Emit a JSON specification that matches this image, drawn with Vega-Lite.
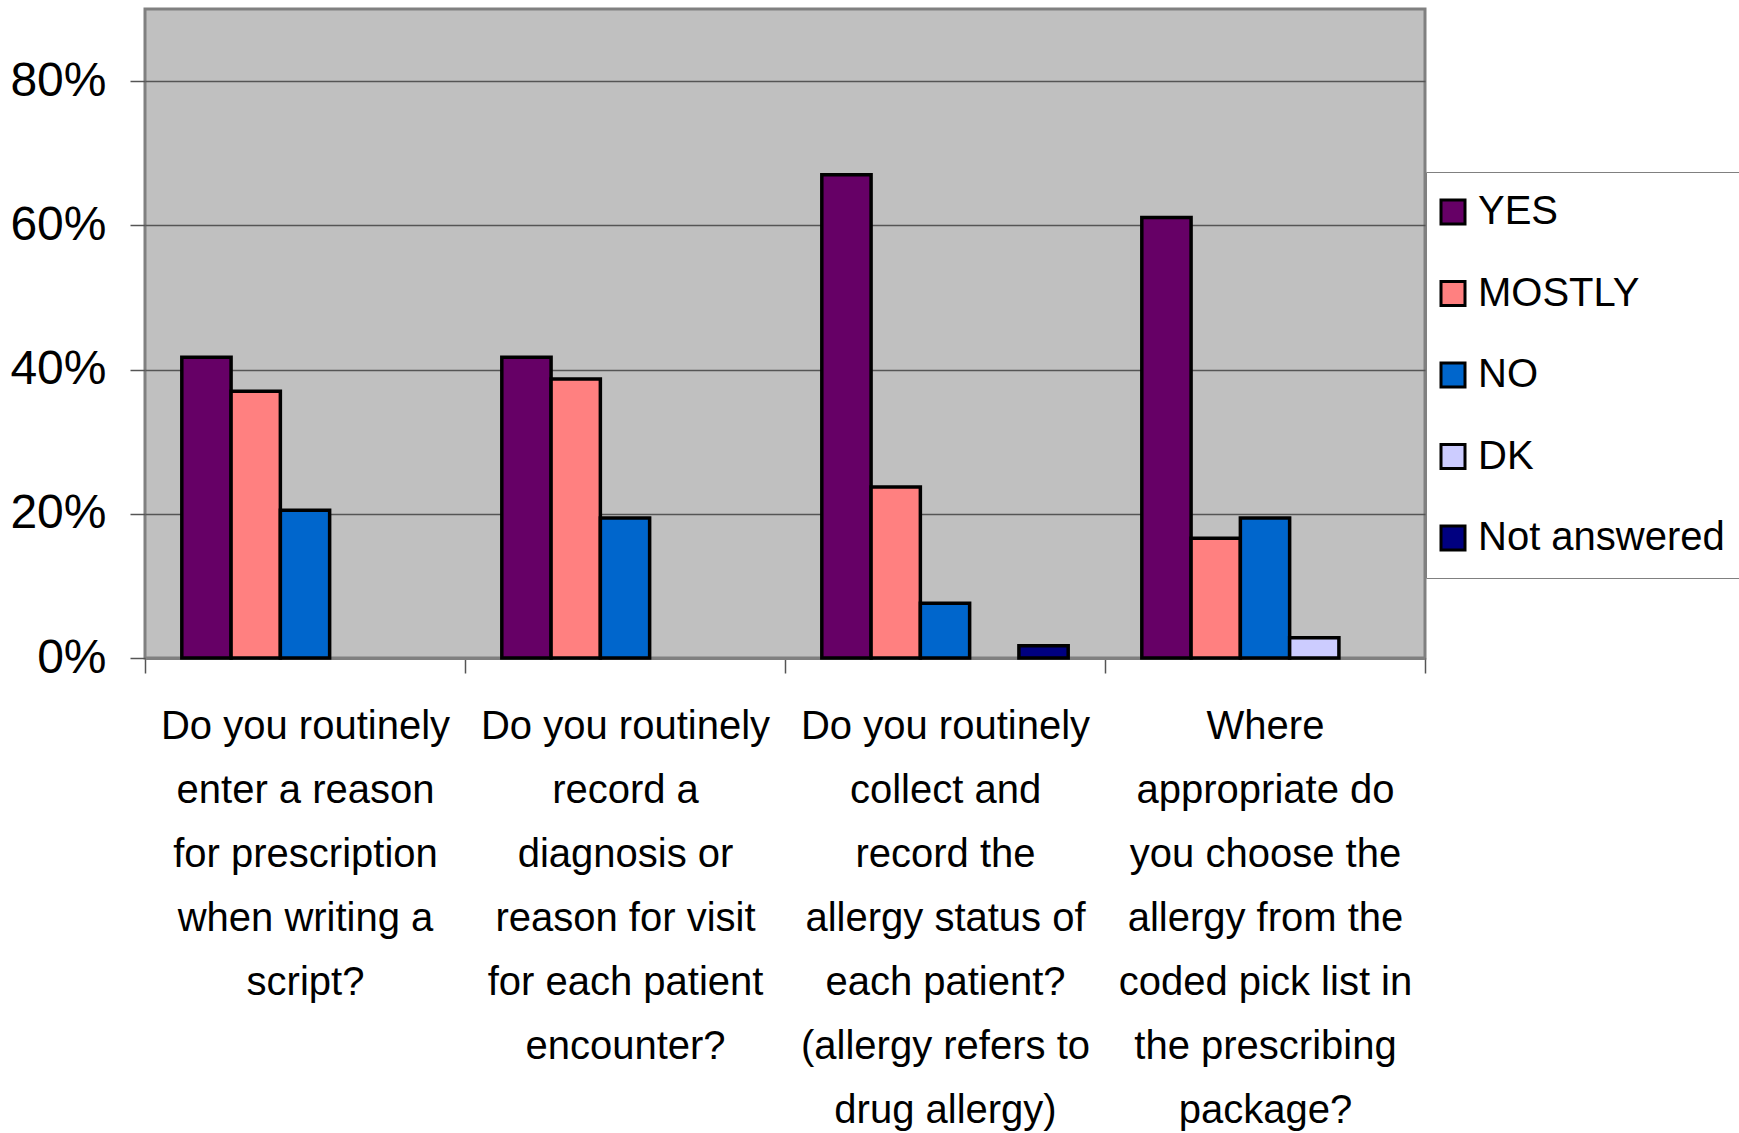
{
  "$schema": "https://vega.github.io/schema/vega-lite/v6.json",
  "width": 1280,
  "height": 649,
  "autosize": "none",
  "padding": {"left": 145, "top": 9, "right": 314, "bottom": 475},
  "background": "white",
  "config": {
    "view": {"fill": "#C0C0C0", "stroke": "#808080", "strokeWidth": 3},
    "font": "Liberation Sans"
  },
  "data": {
    "values": [
      {"question": "Do you routinely|enter a reason|for prescription|when writing a|script?", "response": "YES", "pct": 0.417},
      {"question": "Do you routinely|enter a reason|for prescription|when writing a|script?", "response": "MOSTLY", "pct": 0.37},
      {"question": "Do you routinely|enter a reason|for prescription|when writing a|script?", "response": "NO", "pct": 0.205},
      {"question": "Do you routinely|record a|diagnosis or|reason for visit|for each patient|encounter?", "response": "YES", "pct": 0.417},
      {"question": "Do you routinely|record a|diagnosis or|reason for visit|for each patient|encounter?", "response": "MOSTLY", "pct": 0.387},
      {"question": "Do you routinely|record a|diagnosis or|reason for visit|for each patient|encounter?", "response": "NO", "pct": 0.194},
      {"question": "Do you routinely|collect and|record the|allergy status of|each patient?|(allergy refers to|drug allergy)", "response": "YES", "pct": 0.67},
      {"question": "Do you routinely|collect and|record the|allergy status of|each patient?|(allergy refers to|drug allergy)", "response": "MOSTLY", "pct": 0.237},
      {"question": "Do you routinely|collect and|record the|allergy status of|each patient?|(allergy refers to|drug allergy)", "response": "NO", "pct": 0.076},
      {"question": "Do you routinely|collect and|record the|allergy status of|each patient?|(allergy refers to|drug allergy)", "response": "Not answered", "pct": 0.017},
      {"question": "Where|appropriate do|you choose the|allergy from the|coded pick list in|the prescribing|package?", "response": "YES", "pct": 0.611},
      {"question": "Where|appropriate do|you choose the|allergy from the|coded pick list in|the prescribing|package?", "response": "MOSTLY", "pct": 0.166},
      {"question": "Where|appropriate do|you choose the|allergy from the|coded pick list in|the prescribing|package?", "response": "NO", "pct": 0.194},
      {"question": "Where|appropriate do|you choose the|allergy from the|coded pick list in|the prescribing|package?", "response": "DK", "pct": 0.028}
    ]
  },
  "mark": {"type": "bar", "stroke": "black", "strokeWidth": 3.5},
  "encoding": {
    "x": {
      "field": "question",
      "type": "nominal",
      "sort": null,
      "scale": {"paddingInner": 0, "paddingOuter": 0},
      "axis": {
        "title": null,
        "labelExpr": "split(datum.label, '|')",
        "labelAngle": 0,
        "labelFontSize": 40,
        "labelLineHeight": 64,
        "labelColor": "black",
        "labelPadding": 33,
        "labelLimit": 0,
        "labelBaseline": "top",
        "tickBand": "extent",
        "tickSize": 15,
        "tickColor": "#555555",
        "tickWidth": 1.5,
        "domainColor": "#808080",
        "domainWidth": 3,
        "grid": false
      }
    },
    "xOffset": {
      "field": "response",
      "type": "nominal",
      "scale": {"domain": ["YES", "MOSTLY", "NO", "DK", "Not answered"], "paddingInner": 0, "paddingOuter": 0.747}
    },
    "y": {
      "field": "pct",
      "type": "quantitative",
      "scale": {"domain": [0, 0.9], "nice": false},
      "axis": {
        "title": null,
        "values": [0, 0.2, 0.4, 0.6, 0.8],
        "format": ".0%",
        "labelFontSize": 48,
        "labelColor": "black",
        "labelPadding": 24,
        "tickSize": 15,
        "tickColor": "#555555",
        "tickWidth": 1.5,
        "grid": true,
        "gridColor": "#555555",
        "gridWidth": 1.5,
        "domain": false
      }
    },
    "color": {
      "field": "response",
      "type": "nominal",
      "scale": {
        "domain": ["YES", "MOSTLY", "NO", "DK", "Not answered"],
        "range": ["#660066", "#FF8080", "#0066CC", "#CCCCFF", "#000080"]
      },
      "legend": {
        "title": null,
        "orient": "none",
        "legendX": 1281,
        "legendY": 163,
        "fillColor": "white",
        "strokeColor": "#808080",
        "padding": 20,
        "symbolType": "square",
        "symbolSize": 576,
        "symbolStrokeColor": "black",
        "symbolStrokeWidth": 3,
        "symbolOpacity": 1,
        "symbolOffset": -13,
        "labelFontSize": 40,
        "labelColor": "black",
        "labelOffset": 5,
        "labelLimit": 0,
        "rowPadding": 41.5
      }
    }
  }
}
